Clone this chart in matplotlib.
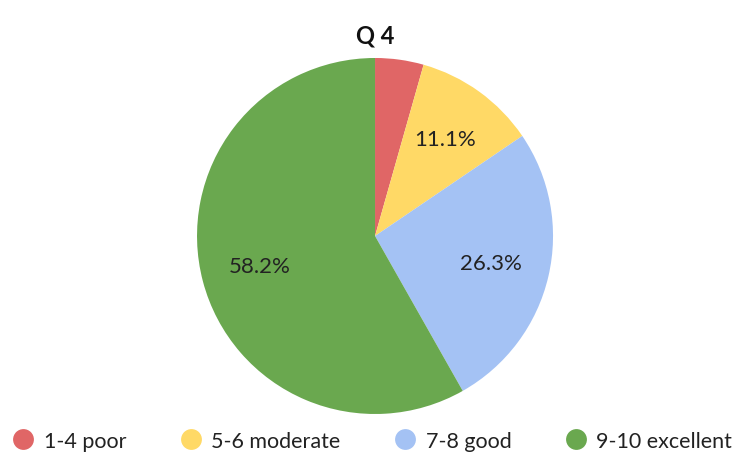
import matplotlib.pyplot as plt
from matplotlib.lines import Line2D

plt.rcParams['font.family'] = ['Lato', 'DejaVu Sans']

labels = ['1-4 poor', '5-6 moderate', '7-8 good', '9-10 excellent']
values = [4.4, 11.1, 26.3, 58.2]
colors = ['#E06666', '#FFD966', '#A4C2F4', '#6AA84F']


def fmt(p):
    return '' if p < 5 else '%.1f%%' % p


fig = plt.figure(figsize=(7.36, 4.6), dpi=100)
ax = fig.add_axes([0.2677, 0.0978, 0.4837, 0.774])
ax.pie(values, colors=colors, startangle=90, counterclock=False,
       autopct=fmt, pctdistance=0.67, radius=1.0,
       wedgeprops=dict(edgecolor='none'),
       textprops=dict(fontsize=16, color='#222222'))
ax.set_aspect('equal')
ax.set_xlim(-1, 1)
ax.set_ylim(-1, 1)

fig.text(0.5095, 0.922, 'Q 4', ha='center', va='center', fontsize=17,
         fontweight='bold', color='#111111')

handles = [Line2D([0], [0], marker='o', linestyle='none', markersize=15,
                  markerfacecolor=c, markeredgecolor='none') for c in colors]
fig.legend(handles, labels, loc='center', bbox_to_anchor=(0.506, 0.04), ncol=4,
           frameon=False, fontsize=15.5, handletextpad=0.45, columnspacing=2.5,
           handlelength=1.0, labelcolor='#222222')

fig.savefig('out.png', dpi=100)
